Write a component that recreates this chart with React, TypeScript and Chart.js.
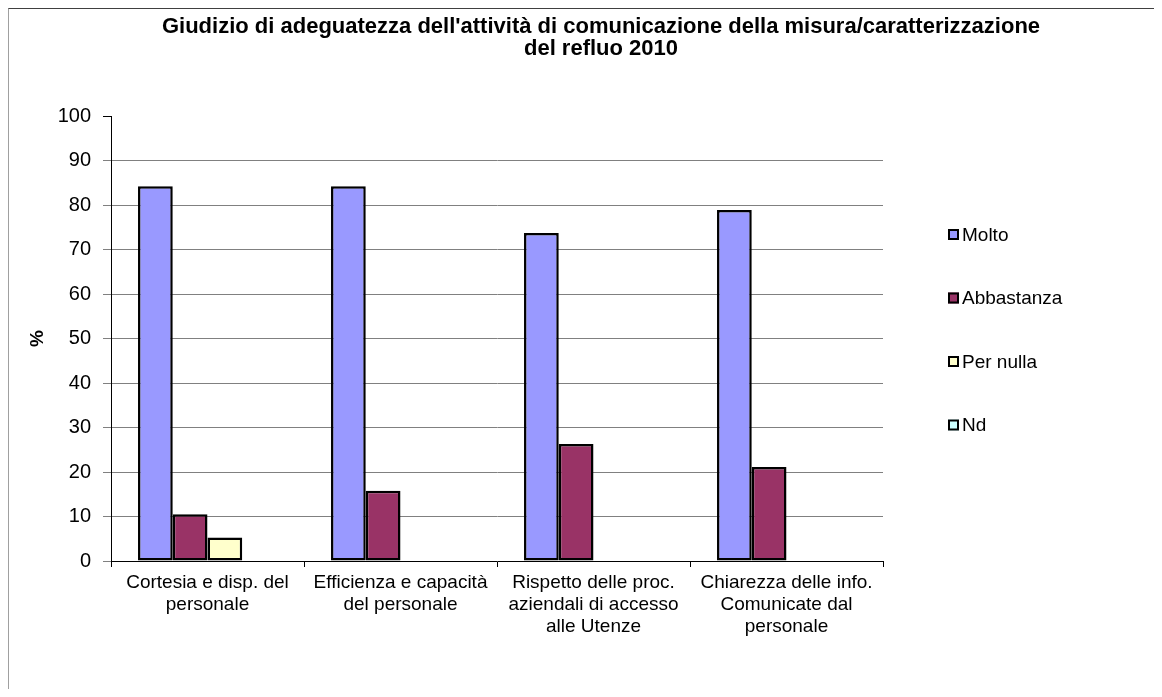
import React, { useEffect, useRef } from "react";
import { Chart, registerables } from "chart.js";

Chart.register(...registerables);

const FONT = '"Liberation Sans", Arial, sans-serif';

const titleLines = [
  "Giudizio di adeguatezza dell'attività di comunicazione della misura/caratterizzazione",
  "del refluo 2010",
];
const yAxisTitle = "%";
const categories = [
  ["Cortesia e disp. del", "personale"],
  ["Efficienza e capacità", "del personale"],
  ["Rispetto delle proc.", "aziendali di accesso", "alle Utenze"],
  ["Chiarezza delle info.", "Comunicate dal", "personale"],
];
const seriesNames = ["Molto", "Abbastanza", "Per nulla", "Nd"];
const molto = [84.2, 84.2, 73.7, 78.9];
const abbastanza = [10.5, 15.8, 26.3, 21.1];
const perNulla = [5.3, 0, 0, 0];
const nd = [0, 0, 0, 0];
const seriesColors = ["#9999FF", "#993366", "#FFFFCC", "#CCFFFF"];
const yMin = 0;
const yMax = 100;
const yStep = 10;

const legendPlugin = {
  id: "sideLegend",
  afterDraw(chart: any) {
    const ctx = chart.ctx;
    const x0 = 939;
    const y0 = 225.5;
    const step = 63.5;
    ctx.save();
    ctx.font = `19px ${FONT}`;
    ctx.textBaseline = "middle";
    ctx.textAlign = "left";
    chart.data.datasets.forEach((ds: any, i: number) => {
      const y = y0 + i * step;
      ctx.fillStyle = ds.backgroundColor;
      ctx.fillRect(x0, y - 5.5, 11, 11);
      ctx.lineWidth = 2;
      ctx.strokeStyle = "#000";
      ctx.strokeRect(x0 + 1, y - 4.5, 9, 9);
      ctx.fillStyle = "#000";
      ctx.fillText(ds.label, x0 + 14, y + 1);
    });
    ctx.restore();
  },
};

export default function App() {
  const ref = useRef<HTMLCanvasElement | null>(null);

  useEffect(() => {
    if (!ref.current) return;
    const values = [molto, abbastanza, perNulla, nd];
    const chart = new Chart(ref.current, {
      type: "bar",
      data: {
        labels: categories,
        datasets: seriesNames.map((name, i) => ({
          label: name,
          data: values[i],
          backgroundColor: seriesColors[i],
          borderColor: "#000000",
          borderWidth: 2.5,
          borderSkipped: false,
          categoryPercentage: 0.72,
          barPercentage: 1,
          yAxisID: "y",
        })),
      },
      options: {
        animation: false,
        responsive: false,
        devicePixelRatio: 1,
        layout: { padding: 0 },
        plugins: {
          legend: { display: false },
          tooltip: { enabled: false },
          title: {
            display: true,
            text: titleLines,
            color: "#000",
            font: { family: FONT, size: 22, weight: "bold", lineHeight: 1 },
            padding: { top: 7, bottom: 56 },
          },
        },
        scales: {
          x: {
            afterFit: (scale: any) => {
              scale.height = 136;
            },
            grid: {
              display: true,
              offset: true,
              drawOnChartArea: false,
              drawTicks: true,
              tickLength: 6,
              color: "#000",
              tickColor: "#000",
            },
            border: { display: true, color: "#000", width: 1 },
            ticks: {
              color: "#000",
              font: { family: FONT, size: 19, lineHeight: 22 / 19 },
              maxRotation: 0,
              minRotation: 0,
              autoSkip: false,
              padding: 5,
            },
          },
          y: {
            min: yMin,
            max: yMax,
            afterFit: (scale: any) => {
              scale.width = 102;
            },
            grid: {
              color: (c: any) =>
                c.tick && (c.tick.value === yMax || c.tick.value === yMin)
                  ? "rgba(0,0,0,0)"
                  : "#808080",
              tickColor: (c: any) =>
                c.tick && c.tick.value === yMax ? "#000" : "#808080",
              tickLength: 8,
              drawTicks: true,
            },
            border: { display: true, color: "#000", width: 1 },
            ticks: {
              stepSize: yStep,
              color: "#000",
              font: { family: FONT, size: 20 },
              padding: 12,
            },
            title: {
              display: true,
              text: yAxisTitle,
              color: "#000",
              font: { family: FONT, size: 19, weight: "bold" },
              padding: { top: 17, bottom: 0 },
            },
          },
          legendSpace: {
            type: "linear",
            position: "right",
            display: true,
            afterFit: (scale: any) => {
              scale.width = 310;
            },
            grid: { display: false, drawTicks: false },
            border: { display: false },
            ticks: { display: false },
            title: { display: false },
          },
        },
      },
      plugins: [legendPlugin],
    } as any);
    return () => chart.destroy();
  }, []);

  return (
    <div
      style={{
        width: 1154,
        height: 681,
        overflow: "hidden",
        boxSizing: "border-box",
        borderTop: "1px solid #404040",
        borderLeft: "1px solid #a0a0a0",
        background: "#fff",
      }}
    >
      <canvas
        ref={ref}
        width={1184}
        height={688}
        style={{ display: "block", width: 1184, height: 688 }}
      />
    </div>
  );
}
